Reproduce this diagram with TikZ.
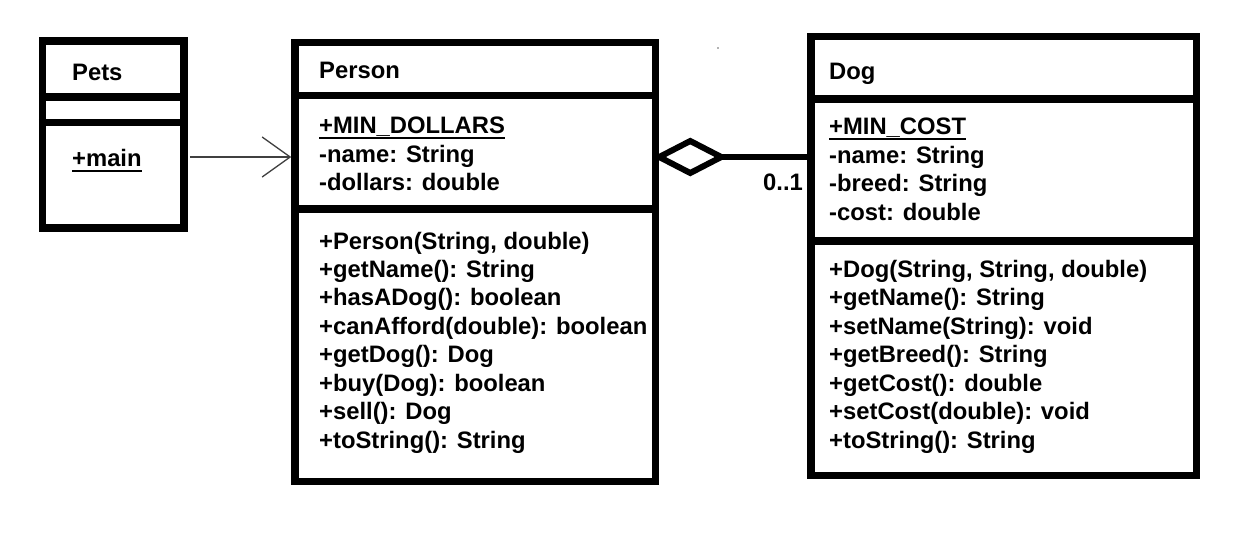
\documentclass[tikz,border=0pt]{standalone}
\usepackage{fontspec}
\setmainfont{Liberation Sans}
\usetikzlibrary{arrows.meta}
\begin{document}
\begin{tikzpicture}[x=1pt,y=-1pt,
  classbox/.style={draw=black, line width=7.5pt, inner sep=0pt},
  divider/.style={draw=black, line width=7.5pt},
  txt/.style={anchor=base west, inner sep=0pt, font=\fontsize{23.8}{28}\selectfont\bfseries},
  ul/.style={draw=black, line width=2.5pt},
  dep/.style={draw=black!75, line width=1.3pt, -{Straight Barb[length=28pt,width=40pt,line width=1.3pt]}},
  aggline/.style={draw=black, line width=6pt},
  aggdiamond/.style={draw=black, line width=6pt, line join=miter}
]
\useasboundingbox (0,0) rectangle (1242,554);
\fill[white] (0,0) rectangle (1242,554);

% class boxes
\node[classbox, minimum width=141.5pt, minimum height=187pt] (pets) at (113.25,134.5) {};
\node[classbox, minimum width=360.5pt, minimum height=439pt] (person) at (475.25,262) {};
\node[classbox, minimum width=385.5pt, minimum height=439pt] (dog) at (1003.75,256) {};

% compartment dividers
\draw[divider] (pets.west |- 0,97) -- (pets.east |- 0,97);
\draw[divider] (pets.west |- 0,122.5) -- (pets.east |- 0,122.5);
\draw[divider] (person.west |- 0,95.5) -- (person.east |- 0,95.5);
\draw[divider] (person.west |- 0,209) -- (person.east |- 0,209);
\draw[divider] (dog.west |- 0,99) -- (dog.east |- 0,99);
\draw[divider] (dog.west |- 0,241) -- (dog.east |- 0,241);

% Pets
\node[txt] (petsname) at (72,80) {Pets};
\node[txt] (petsmain) at (72,166) {+main};
\draw[ul] ([yshift=-5pt]petsmain.base west) -- ([yshift=-5pt]petsmain.base east);

% Person
\node[txt] (personname) at (319,78) {Person};
\node[txt] (pa1) at (319,133) {+MIN\_DOLLARS};
\draw[ul] ([yshift=-5pt]pa1.base west) -- ([yshift=-5pt]pa1.base east);
\node[txt] (pa2) at (319,162) {-name: String};
\node[txt] (pa3) at (319,190.5) {-dollars: double};
\node[txt] (pm1) at (319,249) {+Person(String, double)};
\node[txt] (pm2) at (319,277.4) {+getName(): String};
\node[txt] (pm3) at (319,305.9) {+hasADog(): boolean};
\node[txt] (pm4) at (319,334.3) {+canAfford(double): boolean};
\node[txt] (pm5) at (319,362.7) {+getDog(): Dog};
\node[txt] (pm6) at (319,391.1) {+buy(Dog): boolean};
\node[txt] (pm7) at (319,419.6) {+sell(): Dog};
\node[txt] (pm8) at (319,448) {+toString(): String};

% Dog
\node[txt] (dogname) at (829,79) {Dog};
\node[txt] (da1) at (829,134) {+MIN\_COST};
\draw[ul] ([yshift=-5pt]da1.base west) -- ([yshift=-5pt]da1.base east);
\node[txt] (da2) at (829,163) {-name: String};
\node[txt] (da3) at (829,191.5) {-breed: String};
\node[txt] (da4) at (829,220) {-cost: double};
\node[txt] (dm1) at (829,277) {+Dog(String, String, double)};
\node[txt] (dm2) at (829,305.5) {+getName(): String};
\node[txt] (dm3) at (829,334) {+setName(String): void};
\node[txt] (dm4) at (829,362.5) {+getBreed(): String};
\node[txt] (dm5) at (829,391) {+getCost(): double};
\node[txt] (dm6) at (829,419.5) {+setCost(double): void};
\node[txt] (dm7) at (829,448) {+toString(): String};

% dependency Pets -> Person
\draw[dep, shorten <=2pt] (pets.east |- 0,157) -- (person.west |- 0,157);

% aggregation Person <>-- Dog
\coordinate (aggL) at (person.east |- 0,157);
\draw[aggdiamond] (aggL) -- ++(31,-16) -- ++(31,16) coordinate (aggR) -- ++(-31,16) -- cycle;
\draw[aggline] (dog.west |- 0,157) -- (aggR);
\node[txt] (mult) at (763,190) {0..1};

% stray dot
\fill[black!60] (718,48) circle (0.8pt);
\end{tikzpicture}
\end{document}
